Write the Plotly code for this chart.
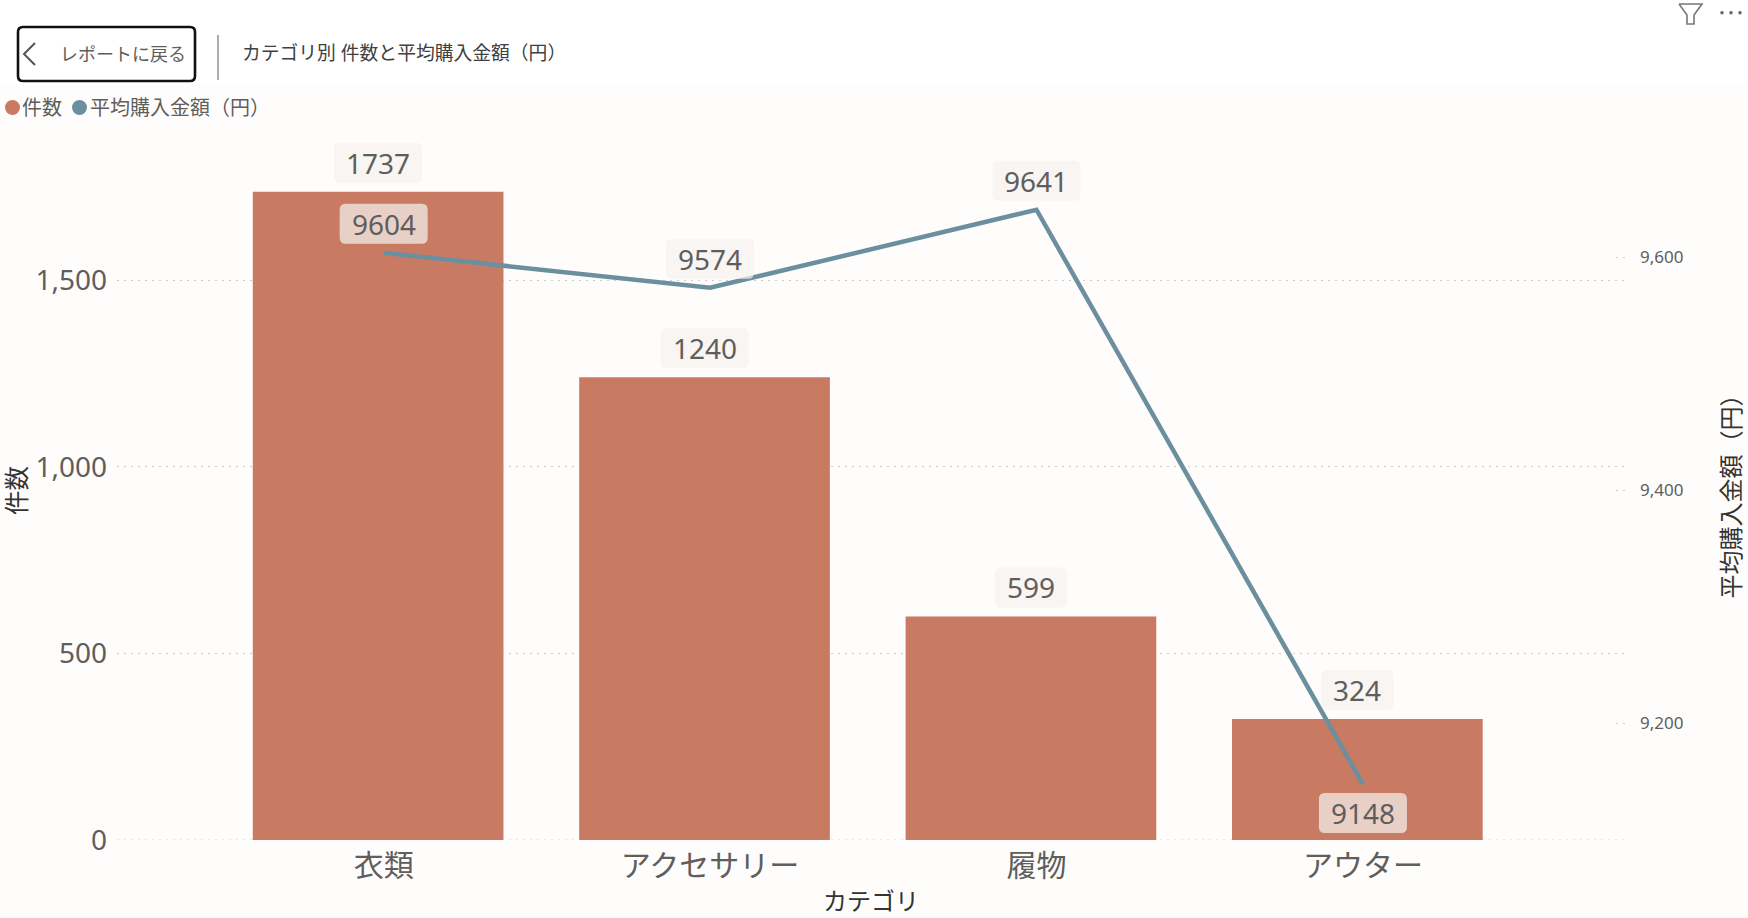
import plotly.graph_objects as go

# DATA
categories = ["衣類", "アクセサリー", "履物", "アウター"]
counts = [1737, 1240, 599, 324]
avg_price = [9604, 9574, 9641, 9148]
left_ticks = [0, 500, 1000, 1500]
right_ticks = [9200, 9400, 9600]

# COLOURS / FONTS
BAR = "#C87A63"
LINE = "#6C8FA0"
BG = "#FEFDFB"
TXT = "#605E5C"
DARK = "#333333"
GRID = "#CCCCCC"
PILL = "rgba(245,241,238,0.72)"
FONT = "Noto Sans, Noto Sans CJK JP"

W, H = 1748, 918
L, R, T, B = 117, 1625, 141, 840
BAR_W = 0.768
BAR_SHIFT = 0.017  # bars sit slightly left of the category centre
DOTS = "2px,5px"


def px(x):
    return (x - L) / (R - L)


def py(y):
    return (B - y) / (B - T)


def rounded(x0, y0, x1, y1, r):
    return (f"M{x0+r},{y0} L{x1-r},{y0} Q{x1},{y0} {x1},{y0+r} L{x1},{y1-r} Q{x1},{y1} {x1-r},{y1} "
            f"L{x0+r},{y1} Q{x0},{y1} {x0},{y1-r} L{x0},{y0+r} Q{x0},{y0} {x0+r},{y0} Z")


def paper_shape(kind, x0, y0, x1, y1, **kw):
    return dict(type=kind, xref="paper", yref="paper", x0=px(x0), x1=px(x1), y0=py(y0), y1=py(y1), **kw)


def paper_path(points, **kw):
    d = "M" + " L".join(f"{px(a)},{py(b)}" for a, b in points)
    return dict(type="path", xref="paper", yref="paper", path=d, **kw)


def paper_text(text, x, y, size, color=TXT, anchor="left", angle=0):
    return dict(text=text, xref="paper", yref="paper", x=px(x), y=py(y), showarrow=False, xanchor=anchor,
                yanchor="middle", textangle=angle, font=dict(family=FONT, size=size, color=color))


fig = go.Figure()
fig.add_trace(go.Bar(x=categories, y=counts, name="件数", marker=dict(color=BAR, line=dict(width=0)),
                     width=BAR_W, offset=-BAR_W / 2 - BAR_SHIFT, yaxis="y", showlegend=False))
fig.add_trace(go.Scatter(x=categories, y=avg_price, name="平均購入金額（円）", mode="lines",
                         line=dict(color=LINE, width=4.5), yaxis="y2", showlegend=False))

shapes = []
annotations = []

# top band, header
shapes.append(paper_shape("rect", 0, 0, W, 84, fillcolor="white", line_width=0, layer="below"))
btn = dict(type="path", xref="paper", yref="paper", line=dict(color="#111111", width=2.6), fillcolor="white",
           path=("M{0},{1} L{2},{1} Q{3},{1} {3},{4} L{3},{5} Q{3},{6} {2},{6} L{0},{6} Q{7},{6} {7},{5} "
                 "L{7},{4} Q{7},{1} {0},{1} Z").format(px(23), py(27), px(190), px(195), py(32), py(76),
                                                       py(81), px(18)))
shapes.append(btn)
shapes.append(paper_path([(35, 43), (24, 54), (35, 65)], line=dict(color="#555555", width=2)))
shapes.append(paper_shape("line", 218, 35, 218, 80, line=dict(color="#999999", width=1.6)))
annotations.append(paper_text("レポートに戻る", 58, 54, 18))
annotations.append(paper_text("カテゴリ別 件数と平均購入金額（円）", 240, 53, 18.8, color="#404040"))

# filter icon and dots
shapes.append(paper_path([(1679, 4), (1702, 4), (1694, 15), (1694, 24), (1687, 24), (1687, 15), (1679, 4)],
                         line=dict(color="#777777", width=1.6)))
for cx in [1722, 1731, 1740]:
    shapes.append(paper_shape("circle", cx - 1.8, 11, cx + 1.8, 14.6, fillcolor="#666666", line_width=0))

# legend
shapes.append(paper_shape("circle", 5, 100, 20, 115, fillcolor=BAR, line_width=0))
shapes.append(paper_shape("circle", 72, 100, 87, 115, fillcolor=LINE, line_width=0))
annotations.append(paper_text("件数", 20, 108, 20))
annotations.append(paper_text("平均購入金額（円）", 88, 108, 20))

# short dotted stubs for the right axis
for t in right_ticks:
    shapes.append(dict(type="line", xref="paper", yref="y2", x0=px(1616), x1=1, y0=t, y1=t,
                       line=dict(color=GRID, width=1, dash=DOTS), layer="below"))
# baseline at zero is dotted like the grid
shapes.append(dict(type="line", xref="paper", yref="y", x0=0, x1=1, y0=0, y1=0,
                   line=dict(color=GRID, width=1, dash=DOTS), layer="below"))


# data labels with rounded pills
def add_label(i, val, yref, text, up, off=0.0, w=88):
    sign = 1 if up else -1
    cy = sign * 29
    shapes.append(dict(type="path", xref="x", yref=yref, xsizemode="pixel", ysizemode="pixel",
                       xanchor=i + off, yanchor=val, fillcolor=PILL, line_width=0, layer="above",
                       path=rounded(-w / 2, cy - 20, w / 2, cy + 20, 6)))
    annotations.append(dict(text=text, xref="x", yref=yref, x=i + off, y=val, yshift=cy, showarrow=False,
                            xanchor="center", yanchor="middle", font=dict(family=FONT, size=28, color=TXT)))


for i, v in enumerate(counts):
    add_label(i, v, "y", str(v), True, off=-BAR_SHIFT, w=88 if v >= 1000 else 72)
for i, v in enumerate(avg_price):
    add_label(i, v, "y2", str(v), v > 9200)

fig.update_layout(
    width=W, height=H, autosize=False,
    margin=dict(l=L, r=W - R, t=T, b=H - B, pad=0, autoexpand=False),
    paper_bgcolor=BG, plot_bgcolor="rgba(0,0,0,0)",
    font=dict(family=FONT, color=TXT),
    shapes=shapes, annotations=annotations, showlegend=False,
    xaxis=dict(type="category", range=[-0.817, 3.803], showgrid=False, showline=False, zeroline=False,
               automargin=False, tickfont=dict(size=30, color=TXT), ticklabelstandoff=5,
               title=dict(text="カテゴリ", font=dict(size=24, color=DARK), standoff=9)),
    yaxis=dict(range=[0, 1873], tickvals=left_ticks, tickformat=",", showgrid=True,
               griddash=DOTS, gridcolor=GRID, gridwidth=1, zeroline=False, showline=False,
               automargin=False, tickfont=dict(size=28, color=TXT), ticklabelstandoff=9,
               title=dict(text="件数", font=dict(size=24.5, color=DARK), standoff=15)),
    yaxis2=dict(overlaying="y", side="right", range=[9100, 9700], tickvals=right_ticks, tickformat=",",
                showgrid=False, zeroline=False, showline=False,
                automargin=False, tickfont=dict(size=17, color=TXT), ticklabelstandoff=14,
                title=dict(text="平均購入金額（円）", font=dict(size=24, color=DARK), standoff=40)),
)

fig.write_html("out.html", post_script="document.body.style.margin='0';",
               config=dict(displayModeBar=False))
